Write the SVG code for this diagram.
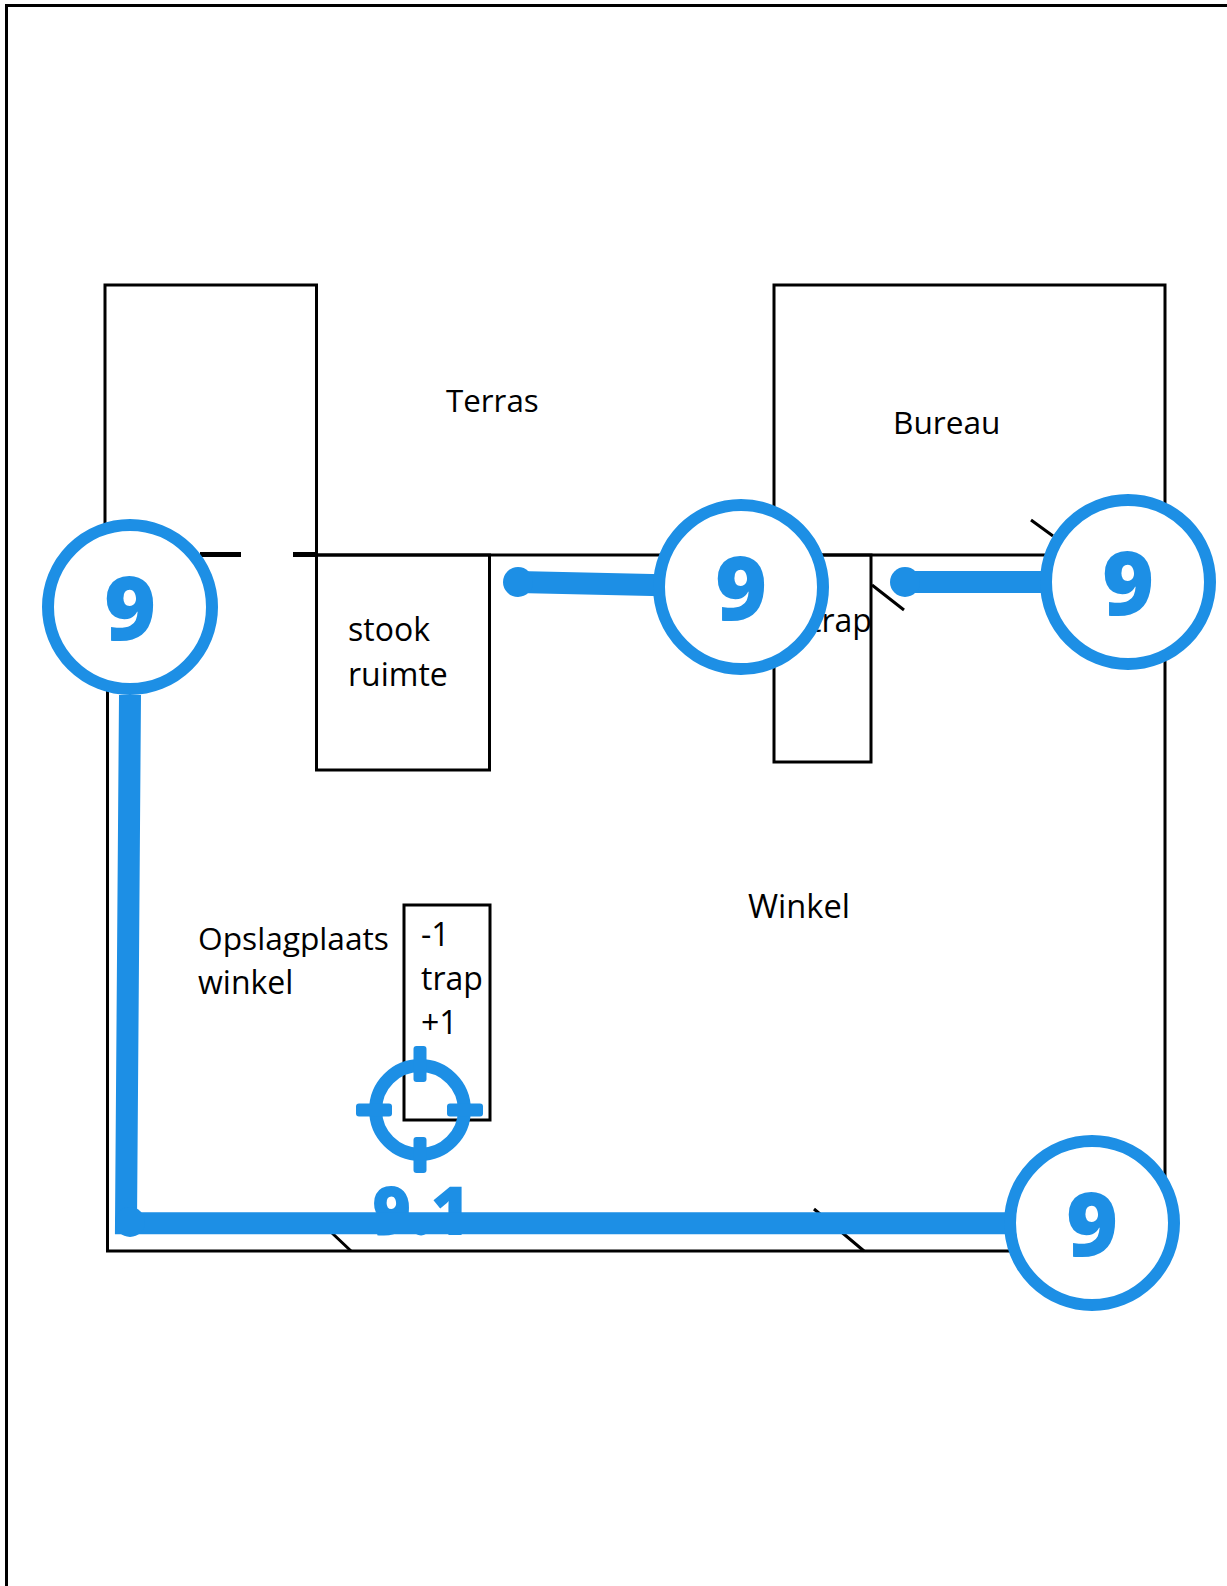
<svg xmlns="http://www.w3.org/2000/svg" width="1227" height="1586" viewBox="0 0 1227 1586">
<style>
.p{fill:none;stroke:#000;stroke-width:3}
.t{font-family:"Open Sans",sans-serif;font-size:32px;fill:#000}
.b{font-family:"Open Sans",sans-serif;font-weight:800;fill:#1d8fe5}
.c{fill:#fff;stroke:#1d8fe5;stroke-width:12}
.l{fill:none;stroke:#1d8fe5;stroke-width:22}
.d{fill:#1d8fe5}
.k{fill:#1d8fe5}
</style>
<rect width="1227" height="1586" fill="#fff"/>
<g id="plan">
<path class="p" d="M6.500 1586V5.500H1227"/>
<path class="p" d="M105 555V285H316.500V555"/>
<path class="p" d="M316.500 555H1165"/>
<path d="M200 554.500H241M293 554.500H316.500" fill="none" stroke="#000" stroke-width="5"/>
<rect class="p" x="316.500" y="555" width="173" height="215"/>
<path class="p" d="M774 555V285H1165V1251H107.500V620"/>
<rect class="p" x="774" y="555" width="97" height="207"/>
<rect class="p" x="404" y="905" width="86" height="215"/>
<path class="p" d="M1031 520L1053 536M872 585L904 610M814 1209L864 1251M332 1233L351 1251"/>
</g>
<g id="labels">
<text class="t" x="446" y="412" style="font-size:31.300px">Terras</text>
<text class="t" x="893" y="434" style="font-size:31.600px">Bureau</text>
<text class="t" x="348" y="641">stook</text>
<text class="t" x="348" y="686">ruimte</text>
<text class="t" x="810" y="632">trap</text>
<text class="t" x="748" y="918" style="font-size:32.600px">Winkel</text>
<text class="t" x="198" y="950" style="font-size:31.700px">Opslagplaats</text>
<text class="t" x="198" y="994" style="font-size:32px">winkel</text>
<text class="t" x="421" y="946">-1</text>
<text class="t" x="421" y="990">trap</text>
<text class="t" x="421" y="1034">+1</text>
</g>
<g id="target-9-1">
<circle cx="420" cy="1110" r="44.400" fill="none" stroke="#1d8fe5" stroke-width="13"/>
<rect class="k" x="413.500" y="1046" width="13" height="36" rx="3"/>
<rect class="k" x="413.500" y="1137" width="13" height="36" rx="3"/>
<rect class="k" x="356" y="1103.500" width="36" height="13" rx="3"/>
<rect class="k" x="447" y="1103.500" width="36" height="13" rx="3"/>
<text class="b" x="421" y="1235" font-size="67" text-anchor="middle">9.1</text>
</g>
<g id="connectors">
<path class="l" d="M130 695L126 1223.300H1092"/>
<circle class="d" cx="130" cy="1222" r="15"/>
<path class="l" d="M518 582L741 587"/>
<circle class="d" cx="518" cy="582" r="15"/>
<path class="l" d="M905 582H1128"/>
<circle class="d" cx="905" cy="582" r="15"/>
</g>
<g id="node-9-a"><circle class="c" cx="130" cy="607" r="82"/><text class="b" x="130" y="639.500" font-size="89" text-anchor="middle">9</text></g>
<g id="node-9-b"><circle class="c" cx="741" cy="587" r="82"/><text class="b" x="741" y="619.500" font-size="89" text-anchor="middle">9</text></g>
<g id="node-9-c"><circle class="c" cx="1128" cy="582" r="82"/><text class="b" x="1128" y="614.500" font-size="89" text-anchor="middle">9</text></g>
<g id="node-9-d"><circle class="c" cx="1092" cy="1223" r="82"/><text class="b" x="1092" y="1255.500" font-size="89" text-anchor="middle">9</text></g>
</svg>
